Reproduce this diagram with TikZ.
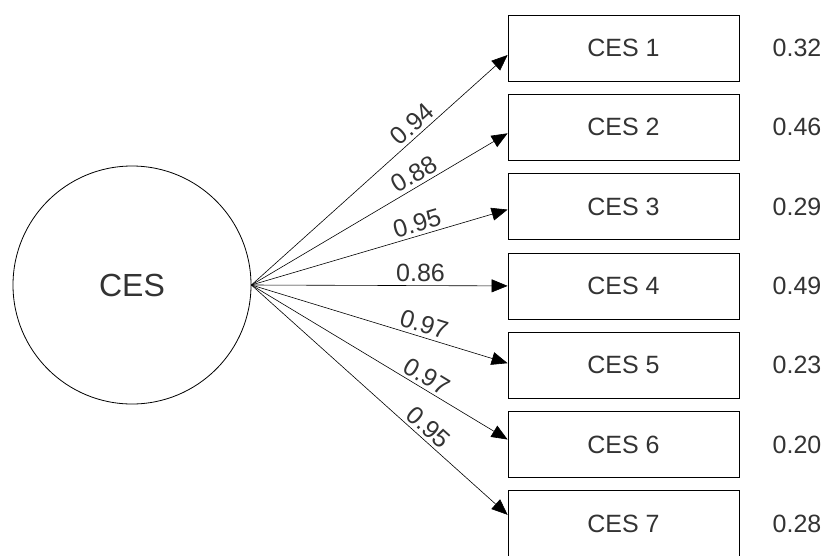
\documentclass[tikz,border=0pt]{standalone}
\usepackage{fontspec}
\setmainfont{Liberation Sans}
\usetikzlibrary{arrows.meta}
\begin{document}
\begin{tikzpicture}[x=1pt,y=-1pt,
        txt/.style={text=black!80,font=\fontsize{25}{30}\selectfont},
        item/.style={txt,draw,thick,minimum width=231pt,minimum height=66pt},
        load/.style={semithick,-{Triangle[length=16pt,width=13pt]}}]
        \useasboundingbox (0,0) rectangle (827,555);
        \node[draw,thick,circle,minimum size=238pt,txt,font=\fontsize{32}{38}\selectfont] (ces) at (132,285) {CES};
        \foreach \i/\w/\e/\dy in {1/0.94/0.32/-7, 2/0.88/0.46/-6, 3/0.95/0.29/-3, 4/0.86/0.49/0,
                                  5/0.97/0.23/2, 6/0.97/0.20/5, 7/0.95/0.28/9} {
            \node[item] (c\i) at (623.5,{48+79.3*(\i-1)}) {CES \i};
            \node[txt] (e\i) at (797,{48+79.3*(\i-1)}) {\e};
            \draw[load] (ces.east) -- ([yshift=\dy pt]c\i.west) node[txt,pos=0.66,sloped,above] {\w};
        }
    \end{tikzpicture}
\end{document}
